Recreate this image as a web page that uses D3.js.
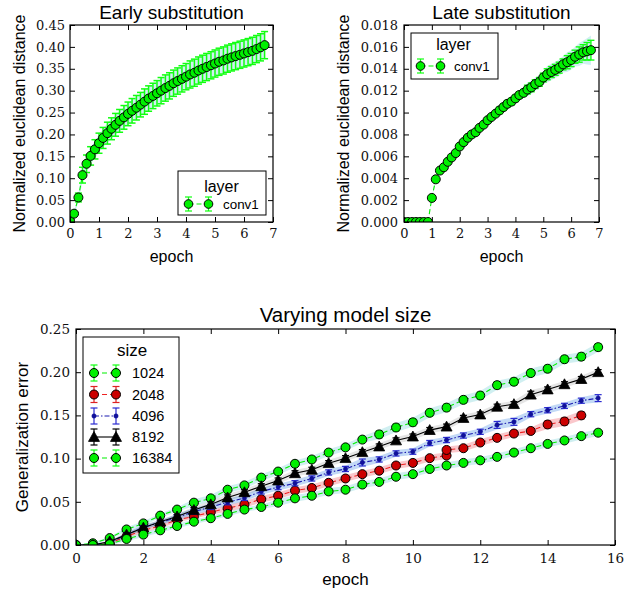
<!DOCTYPE html>
<html><head><meta charset="utf-8">
<script src="https://cdn.jsdelivr.net/npm/d3@7"></script>
<style>body{margin:0;background:#fff}svg{display:block}</style>
</head><body>
<svg id="chart" width="632" height="594"></svg>
<script>
// ---------- DATA ----------
const substitutionEpochs = [0, 0.14, 0.29, 0.43, 0.57, 0.71, 0.86, 1.00, 1.14, 1.29, 1.43, 1.57, 1.71, 1.86, 2.00, 2.14, 2.29, 2.43, 2.57, 2.71, 2.86, 3.00, 3.14, 3.29, 3.43, 3.57, 3.71, 3.86, 4.00, 4.14, 4.29, 4.43, 4.57, 4.71, 4.86, 5.00, 5.14, 5.29, 5.43, 5.57, 5.71, 5.86, 6.00, 6.14, 6.29, 6.43, 6.57, 6.71];
const earlyDistance = [0.003, 0.019, 0.056, 0.107, 0.133, 0.151, 0.166, 0.180, 0.192, 0.203, 0.213, 0.222, 0.231, 0.239, 0.247, 0.254, 0.261, 0.268, 0.275, 0.282, 0.288, 0.294, 0.300, 0.306, 0.311, 0.317, 0.322, 0.327, 0.332, 0.337, 0.341, 0.346, 0.350, 0.354, 0.358, 0.362, 0.366, 0.369, 0.373, 0.376, 0.379, 0.382, 0.385, 0.388, 0.391, 0.395, 0.399, 0.404];
const earlyErr = [0.002, 0.005, 0.010, 0.018, 0.020, 0.021, 0.022, 0.023, 0.024, 0.025, 0.025, 0.026, 0.026, 0.027, 0.027, 0.028, 0.028, 0.028, 0.029, 0.029, 0.029, 0.029, 0.030, 0.030, 0.030, 0.030, 0.030, 0.030, 0.030, 0.031, 0.031, 0.031, 0.031, 0.031, 0.031, 0.031, 0.031, 0.031, 0.031, 0.031, 0.031, 0.031, 0.031, 0.031, 0.031, 0.031, 0.031, 0.031];
const lateDistance = [0, 0, 0, 0, 0, 0, 0, 0.0022, 0.0039, 0.0047, 0.0050, 0.0055, 0.0059, 0.0063, 0.0069, 0.0073, 0.0077, 0.0080, 0.0082, 0.0086, 0.0089, 0.0093, 0.0096, 0.0099, 0.0102, 0.0105, 0.0108, 0.0110, 0.0113, 0.0116, 0.0118, 0.0121, 0.0123, 0.0126, 0.0128, 0.0132, 0.0135, 0.0137, 0.0139, 0.0141, 0.0144, 0.0146, 0.0148, 0.0151, 0.0153, 0.0155, 0.0156, 0.0157];
const lateErr = [0, 0, 0, 0, 0, 0, 0, 0.0001, 0.0001, 0.0001, 0.0001, 0.0001, 0.0001, 0.0001, 0.0001, 0.0001, 0.0001, 0.0002, 0.0002, 0.0002, 0.0002, 0.0002, 0.0002, 0.0002, 0.0003, 0.0003, 0.0003, 0.0003, 0.0003, 0.0003, 0.0003, 0.0004, 0.0004, 0.0004, 0.0004, 0.0004, 0.0005, 0.0005, 0.0005, 0.0005, 0.0005, 0.0006, 0.0006, 0.0006, 0.0007, 0.0007, 0.0008, 0.0009];

const sizeEpochs = [0, 0.5, 1, 1.5, 2, 2.5, 3, 3.5, 4, 4.5, 5, 5.5, 6, 6.5, 7, 7.5, 8, 8.5, 9, 9.5, 10, 10.5, 11, 11.5, 12, 12.5, 13, 13.5, 14, 14.5, 15, 15.5];
const size2048Epochs = [0, 0.5, 1, 1.5, 2, 2.5, 3, 3.5, 4, 4.5, 5, 5.5, 6, 6.5, 7, 7.5, 8, 8.5, 9, 9.5, 10, 10.5, 11, 11, 11.5, 12, 12.5, 13, 13.5, 14, 14.5, 15];
const sizeLabels = ["1024", "2048", "4096", "8192", "16384"];
const err1024 = [0.000, 0.002, 0.008, 0.018, 0.025, 0.034, 0.041, 0.049, 0.054, 0.064, 0.069, 0.078, 0.085, 0.094, 0.099, 0.107, 0.113, 0.122, 0.128, 0.136, 0.142, 0.153, 0.159, 0.168, 0.173, 0.185, 0.189, 0.199, 0.204, 0.215, 0.218, 0.229];
const err2048 = [0.000, 0.000, 0.002, 0.010, 0.017, 0.022, 0.029, 0.033, 0.038, 0.0425, 0.047, 0.053, 0.057, 0.063, 0.066, 0.072, 0.077, 0.082, 0.086, 0.092, 0.095, 0.1005, 0.1035, 0.110, 0.112, 0.1186, 0.124, 0.129, 0.132, 0.1395, 0.143, 0.150];
const err4096 = [0.000, 0.000, 0.003, 0.012, 0.0205, 0.026, 0.032, 0.0386, 0.044, 0.0495, 0.0545, 0.062, 0.067, 0.0715, 0.077, 0.084, 0.088, 0.0955, 0.099, 0.106, 0.108, 0.118, 0.1215, 0.1267, 0.131, 0.139, 0.1425, 0.1514, 0.156, 0.161, 0.167, 0.170];
const err8192 = [0.000, 0.000, 0.004, 0.012, 0.020, 0.027, 0.033, 0.0405, 0.047, 0.055, 0.061, 0.068, 0.0746, 0.083, 0.087, 0.0947, 0.1005, 0.1074, 0.114, 0.121, 0.1255, 0.133, 0.137, 0.147, 0.151, 0.160, 0.163, 0.174, 0.180, 0.186, 0.192, 0.200];
const err16384 = [0.000, 0.000, 0.001, 0.007, 0.012, 0.017, 0.022, 0.027, 0.031, 0.036, 0.041, 0.044, 0.049, 0.054, 0.057, 0.062, 0.064, 0.070, 0.073, 0.079, 0.082, 0.088, 0.092, 0.095, 0.098, 0.102, 0.107, 0.112, 0.117, 0.121, 0.126, 0.130];
const sd1024 = [0.000, 0.001, 0.001, 0.002, 0.002, 0.002, 0.002, 0.003, 0.003, 0.003, 0.003, 0.003, 0.003, 0.003, 0.003, 0.003, 0.003, 0.003, 0.004, 0.004, 0.004, 0.004, 0.004, 0.004, 0.004, 0.004, 0.004, 0.004, 0.004, 0.004, 0.004, 0.004];
const sd2048 = [0.000, 0.001, 0.001, 0.002, 0.002, 0.002, 0.002, 0.002, 0.002, 0.003, 0.003, 0.003, 0.003, 0.003, 0.003, 0.003, 0.003, 0.003, 0.003, 0.003, 0.003, 0.003, 0.003, 0.003, 0.003, 0.003, 0.003, 0.003, 0.003, 0.004, 0.004, 0.004];
const sd4096 = [0.000, 0.001, 0.001, 0.002, 0.002, 0.002, 0.003, 0.003, 0.003, 0.003, 0.003, 0.003, 0.003, 0.003, 0.003, 0.003, 0.003, 0.004, 0.003, 0.003, 0.003, 0.003, 0.003, 0.003, 0.003, 0.004, 0.004, 0.003, 0.003, 0.003, 0.003, 0.004];
const sd8192 = [0.000, 0.001, 0.001, 0.002, 0.002, 0.002, 0.002, 0.003, 0.003, 0.003, 0.003, 0.003, 0.003, 0.003, 0.003, 0.003, 0.003, 0.003, 0.003, 0.003, 0.003, 0.003, 0.003, 0.003, 0.003, 0.003, 0.003, 0.004, 0.003, 0.003, 0.003, 0.003];
const sd16384 = [0.000, 0.001, 0.001, 0.002, 0.002, 0.002, 0.002, 0.002, 0.002, 0.002, 0.002, 0.002, 0.003, 0.003, 0.003, 0.003, 0.003, 0.003, 0.003, 0.003, 0.003, 0.003, 0.003, 0.003, 0.003, 0.003, 0.003, 0.003, 0.003, 0.003, 0.003, 0.003];

const earlyYTicks = [0, 0.05, 0.10, 0.15, 0.20, 0.25, 0.30, 0.35, 0.40, 0.45];
const lateYTicks = [0, 0.002, 0.004, 0.006, 0.008, 0.010, 0.012, 0.014, 0.016, 0.018];
const substitutionXTicks = [0, 1, 2, 3, 4, 5, 6, 7];
const sizeYTicks = [0, 0.05, 0.10, 0.15, 0.20, 0.25];
const sizeXTicks = [0, 2, 4, 6, 8, 10, 12, 14, 16];

// ---------- STYLES ----------
const SANS = "'Liberation Sans', Arial, sans-serif";
const SERIF = "'DejaVu Serif', serif";
const GREEN = "#00f000";
const styles = {
  green: {marker: "circle", fill: GREEN, stroke: "#000", r: 4.5, line: GREEN, dash: "5,3", ebar: "#11ff11", band: "rgba(150,220,225,0.45)"},
  red:   {marker: "circle", fill: "#cc0000", stroke: "#000", r: 4.5, line: "#ee2222", dash: "5,3", ebar: "#dd2222", band: "rgba(245,130,140,0.45)"},
  blue:  {marker: "dot", fill: "#10109a", stroke: "#10109a", r: 2.2, line: "#1a1ab0", dash: "5,2,1.5,2", ebar: "#2a2ad0", band: "rgba(120,170,235,0.45)"},
  black: {marker: "tri", fill: "#000", stroke: "#000", r: 5.5, line: "#000", dash: null, ebar: "#000", band: "rgba(0,0,0,0.10)"}
};

const svg = d3.select("#chart");
let clipId = 0;

function panel(o) {
  const x = d3.scaleLinear().domain(o.xDomain).range([o.left, o.right]);
  const y = d3.scaleLinear().domain(o.yDomain).range([o.bottom, o.top]);
  const g = svg.append("g");
  const id = "clip" + (clipId++);
  g.append("clipPath").attr("id", id).append("rect")
    .attr("x", o.left).attr("y", o.top).attr("width", o.right - o.left).attr("height", o.bottom - o.top);
  const plot = g.append("g").attr("clip-path", `url(#${id})`);
  const T = 5;
  const axB = g.append("g").attr("transform", `translate(0,${o.bottom})`)
    .call(d3.axisBottom(x).tickValues(o.xTicks).tickSize(-T).tickSizeOuter(0).tickPadding(o.xPad).tickFormat(d3.format("d")));
  const axT = g.append("g").attr("transform", `translate(0,${o.top})`)
    .call(d3.axisTop(x).tickValues(o.xTicks).tickSize(-T).tickSizeOuter(0).tickFormat(""));
  const axL = g.append("g").attr("transform", `translate(${o.left},0)`)
    .call(d3.axisLeft(y).tickValues(o.yTicks).tickSize(-T).tickSizeOuter(0).tickPadding(o.yPad).tickFormat(d3.format(o.yFmt)));
  const axR = g.append("g").attr("transform", `translate(${o.right},0)`)
    .call(d3.axisRight(y).tickValues(o.yTicks).tickSize(-T).tickSizeOuter(0).tickFormat(""));
  [axB, axT, axL, axR].forEach(a => {
    a.select(".domain").remove();
    a.selectAll(".tick line").attr("stroke", "#000").attr("stroke-width", 1);
    a.selectAll(".tick text").attr("font-family", SERIF).attr("font-size", o.tickFont).attr("fill", "#111");
  });
  g.append("rect").attr("x", o.left).attr("y", o.top).attr("width", o.right - o.left).attr("height", o.bottom - o.top)
    .attr("fill", "none").attr("stroke", "#000").attr("stroke-width", 1.2);
  g.append("text").attr("x", (o.left + o.right) / 2).attr("y", o.titleY).attr("text-anchor", "middle")
    .attr("font-family", SANS).attr("font-size", o.titleFont).text(o.title);
  g.append("text").attr("x", (o.left + o.right) / 2).attr("y", o.xLabelY).attr("text-anchor", "middle")
    .attr("font-family", SANS).attr("font-size", o.labelFont).text(o.xLabel);
  g.append("text").attr("transform", `translate(${o.yLabelX},${(o.top + o.bottom) / 2}) rotate(-90)`).attr("text-anchor", "middle")
    .attr("font-family", SANS).attr("font-size", o.labelFont).text(o.yLabel);
  return {x, y, g, plot};
}

function drawMarker(sel, st, cx, cy) {
  if (st.marker === "circle" || st.marker === "dot") {
    sel.append("circle").attr("cx", cx).attr("cy", cy).attr("r", st.r)
      .attr("fill", st.fill).attr("stroke", st.stroke).attr("stroke-width", st.marker === "dot" ? 0.5 : 1);
  } else {
    const s = st.r;
    sel.append("path").attr("d", `M${cx},${cy - s}L${cx + s},${cy + s * 0.8}L${cx - s},${cy + s * 0.8}Z`)
      .attr("fill", st.fill).attr("stroke", st.stroke).attr("stroke-width", 0.8);
  }
}

function bands(p, xs, ys, es, st, k) {
  const area = d3.area().x((d, i) => p.x(xs[i])).y0((d, i) => p.y(ys[i] - es[i] * k)).y1((d, i) => p.y(ys[i] + es[i] * k));
  p.plot.append("path").datum(ys).attr("d", area).attr("fill", st.band).attr("stroke", "none");
}

function series(p, xs, ys, es, st, cap, ew) {
  const g = p.plot.append("g");
  const line = d3.line().x((d, i) => p.x(xs[i])).y(d => p.y(d));
  g.append("path").datum(ys).attr("d", line).attr("fill", "none").attr("stroke", st.line)
    .attr("stroke-width", 1.1).attr("stroke-dasharray", st.dash);
  ys.forEach((v, i) => {
    if (es[i] <= 0) return;
    const cx = p.x(xs[i]), y1 = p.y(v - es[i]), y2 = p.y(v + es[i]);
    g.append("line").attr("x1", cx).attr("x2", cx).attr("y1", y1).attr("y2", y2).attr("stroke", st.ebar).attr("stroke-width", ew);
    [y1, y2].forEach(yy => g.append("line").attr("x1", cx - cap).attr("x2", cx + cap).attr("y1", yy).attr("y2", yy)
      .attr("stroke", st.ebar).attr("stroke-width", ew));
  });
  ys.forEach((v, i) => drawMarker(g, st, p.x(xs[i]), p.y(v)));
}

function legendEntry(g, st, xa, xb, y, label, tx, font, half) {
  g.append("line").attr("x1", xa).attr("x2", xb).attr("y1", y).attr("y2", y).attr("stroke", st.line)
    .attr("stroke-width", 1.1).attr("stroke-dasharray", st.dash);
  [xa, xb].forEach(cx => {
    g.append("line").attr("x1", cx).attr("x2", cx).attr("y1", y - half).attr("y2", y + half).attr("stroke", st.ebar).attr("stroke-width", 1.2);
    [y - half, y + half].forEach(yy => g.append("line").attr("x1", cx - 3.5).attr("x2", cx + 3.5).attr("y1", yy).attr("y2", yy)
      .attr("stroke", st.ebar).attr("stroke-width", 1.2));
    drawMarker(g, st, cx, y);
  });
  g.append("text").attr("x", tx).attr("y", y + 5).attr("font-family", SANS).attr("font-size", font).text(label);
}

function legendBox(x, y, w, h, title, tx, ty, font) {
  const g = svg.append("g");
  g.append("rect").attr("x", x).attr("y", y).attr("width", w).attr("height", h).attr("fill", "#fff").attr("stroke", "#000").attr("stroke-width", 1);
  g.append("text").attr("x", tx).attr("y", ty).attr("text-anchor", "middle").attr("font-family", SANS).attr("font-size", font).text(title);
  return g;
}

// ---------- EARLY ----------
const early = panel({left: 70, right: 273, top: 25, bottom: 222, xDomain: [0, 7], yDomain: [0, 0.45],
  xTicks: substitutionXTicks, yTicks: earlyYTicks, yFmt: ".2f", xPad: 7, yPad: 5, tickFont: 13,
  title: "Early substitution", titleY: 18.5, titleFont: 19, xLabel: "epoch", xLabelY: 261.5, labelFont: 16,
  yLabel: "Normalized euclidean distance", yLabelX: 25});
bands(early, substitutionEpochs, earlyDistance, earlyErr, styles.green, 0.9);
series(early, substitutionEpochs, earlyDistance, earlyErr, styles.green, 3.5, 1.5);
const lgE = legendBox(178, 171, 88, 44, "layer", 221.5, 191.5, 16);
legendEntry(lgE, {...styles.green, r: 4.3}, 188.5, 208.5, 204, "conv1", 223, 13.4, 7);

// ---------- LATE ----------
const late = panel({left: 404, right: 599, top: 25, bottom: 222, xDomain: [0, 7], yDomain: [0, 0.018],
  xTicks: substitutionXTicks, yTicks: lateYTicks, yFmt: ".3f", xPad: 7, yPad: 6, tickFont: 13,
  title: "Late substitution", titleY: 18.5, titleFont: 19, xLabel: "epoch", xLabelY: 261.5, labelFont: 16,
  yLabel: "Normalized euclidean distance", yLabelX: 349});
bands(late, substitutionEpochs, lateDistance, lateErr, styles.green, 1.5);
series(late, substitutionEpochs, lateDistance, lateErr, styles.green, 3.5, 1.4);
const lgL = legendBox(411, 33, 87, 46, "layer", 453.5, 50, 16);
legendEntry(lgL, {...styles.green, r: 4.3}, 420.5, 440.5, 66, "conv1", 454, 13.4, 7);

// ---------- MODEL SIZE ----------
const ms = panel({left: 76, right: 615, top: 329, bottom: 545, xDomain: [0, 16], yDomain: [0, 0.25],
  xTicks: sizeXTicks, yTicks: sizeYTicks, yFmt: ".2f", xPad: 8, yPad: 6, tickFont: 13.5,
  title: "Varying model size", titleY: 321.5, titleFont: 20.5, xLabel: "epoch", xLabelY: 584.5, labelFont: 17,
  yLabel: "Generalization error", yLabelX: 28});
const sizeSeries = [
  {xs: sizeEpochs, ys: err1024, es: sd1024, st: styles.green},
  {xs: size2048Epochs, ys: err2048, es: sd2048, st: styles.red},
  {xs: sizeEpochs, ys: err4096, es: sd4096, st: styles.blue},
  {xs: sizeEpochs, ys: err8192, es: sd8192, st: styles.black},
  {xs: sizeEpochs, ys: err16384, es: sd16384, st: styles.green}
];
sizeSeries.forEach(s => bands(ms, s.xs, s.ys, s.es, s.st, 1.3));
sizeSeries.forEach(s => series(ms, s.xs, s.ys, s.es, s.st, 3.5, 1.2));
const lgS = legendBox(83, 337, 96, 136, "size", 132, 356, 17);
const entryY = [373, 394.5, 416, 437, 458];
sizeSeries.forEach((s, i) => legendEntry(lgS, s.st, 94, 116, entryY[i], sizeLabels[i], 132, 14.5, 8));
</script>
</body></html>
